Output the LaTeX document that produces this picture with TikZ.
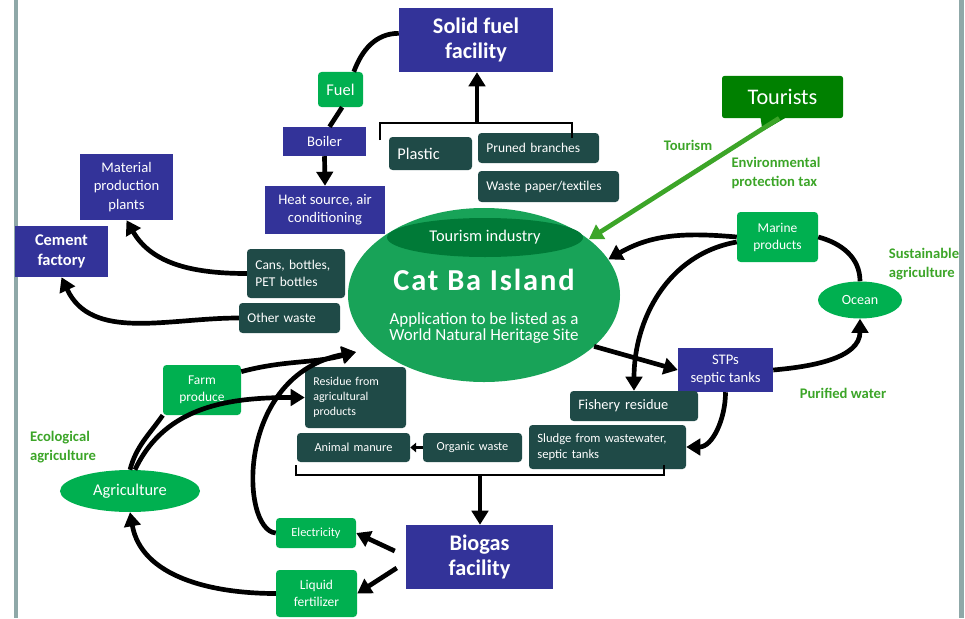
\documentclass[tikz,border=0pt]{standalone}
\usepackage{fontspec}
\setmainfont{Carlito}
\usetikzlibrary{arrows.meta,calc,shapes.geometric}
\definecolor{facblue}{RGB}{51,51,153}
\definecolor{wastegreen}{RGB}{31,74,71}
\definecolor{prodgreen}{RGB}{0,176,80}
\definecolor{tourgreen}{RGB}{0,128,0}
\definecolor{islandgreen}{RGB}{24,163,88}
\definecolor{topgreen}{RGB}{0,122,55}
\definecolor{labelgreen}{RGB}{60,165,40}
\definecolor{framegray}{RGB}{143,168,168}
\newcommand{\fs}[2]{\fontsize{#1}{#2}\selectfont}

\tikzset{
  facility/.style={fill=facblue, text=white, align=center, inner sep=2pt},
  waste/.style={fill=wastegreen, text=white, rounded corners=3pt, align=left, inner xsep=0.25cm, inner ysep=2pt},
  product/.style={fill=prodgreen, text=white, rounded corners=3pt, align=center, inner sep=2pt},
  greenlabel/.style={text=labelgreen, font=\fs{12.5}{16}\bfseries, align=left, inner sep=0pt},
  flow/.style={line width=4pt, -{Triangle[length=12pt,width=14pt]}},
  smallflow/.style={line width=2.5pt, -{Triangle[length=5pt,width=8pt]}},
  garrow/.style={line width=4pt, labelgreen, -{Triangle[length=12pt,width=14pt]}},
  link/.style={line width=4pt},
  bracket/.style={line width=2.5pt},
}

\begin{document}
\begin{tikzpicture}[x=0.03cm, y=-0.03cm]
			%%%%% FRAME %%%%%
			\useasboundingbox (0,0) rectangle (965,618);
			\fill[framegray] (14,0) rectangle (18,618);
			\fill[framegray] (959,0) rectangle (964,618);
			
			%%%%% SOLID FUEL SIDE %%%%%
			\node[facility, minimum width=4.62cm, minimum height=1.92cm, font=\fs{19}{22}\bfseries] (solid) at (476,40) {Solid fuel\\facility};
			\node[product, minimum width=1.35cm, minimum height=1.05cm, font=\fs{14}{15}] (fuel) at (340.5,89.5) {Fuel};
			\node[facility, minimum width=2.49cm, minimum height=0.87cm, font=\fs{12.5}{14}] (boiler) at (324.5,141.5) {Boiler};
			\node[facility, minimum width=3.6cm, minimum height=1.44cm, font=\fs{12.5}{15.5}] (heat) at (325,210) {Heat source, air\\conditioning};
			\node[facility, minimum width=2.79cm, minimum height=1.98cm, font=\fs{12.5}{15.5}] (material) at (126.5,187) {Material\\production\\plants};
			\node[facility, minimum width=2.79cm, minimum height=1.53cm, font=\fs{14}{17}\bfseries] (cement) at (61.5,251.5) {Cement\\factory};
			
			\node[waste, text width=1.99cm, minimum height=0.99cm, font=\fs{14}{15}] (plastic) at (430.5,153.5) {Plastic};
			\node[waste, text width=3.13cm, minimum height=0.9cm, font=\fs{11.5}{13}] (pruned) at (538.5,148) {Pruned branches};
			\node[waste, text width=3.73cm, minimum height=0.93cm, font=\fs{11.5}{13}] (paper) at (548.5,186.5) {Waste paper/textiles};
			\node[waste, text width=2.44cm, minimum height=1.47cm, font=\fs{11.5}{14}] (cans) at (296,273.5) {Cans, bottles,\\PET bottles};
			\node[waste, text width=2.53cm, minimum height=0.9cm, font=\fs{11.5}{13}] (other) at (289.5,318) {Other waste};
			
			%%%%% ISLAND %%%%%
			\node[ellipse, fill=islandgreen, minimum width=8.16cm, minimum height=5.22cm] (island) at (484,295) {};
			\node[ellipse, fill=topgreen, text=white, minimum width=5.88cm, minimum height=1.17cm, font=\fs{14}{15}] (industry) at (485,237.5) {Tourism industry};
			\node[text=white, font=\fs{26}{28}\bfseries\addfontfeatures{LetterSpace=6}] (catba) at (484,280) {Cat Ba Island};
			\node[text=white, align=center, font=\fs{14.5}{13.5}] (heritage) at (484,328) {Application to be listed as a\\World Natural Heritage Site};
			\coordinate (islandsw) at (356,352);
			
			\node[fill=tourgreen, text=white, minimum width=3.63cm, minimum height=1.26cm, rounded corners=2pt, font=\fs{19}{20}] (tourists) at (782.5,97) {Tourists};
			\fill[tourgreen] ($(tourists.south)+(-22,-1)$) -- ++(26,0) -- ++(-24,14) -- cycle;
			
			%%%%% SEA SIDE %%%%%
			\node[product, minimum width=2.43cm, minimum height=1.5cm, font=\fs{11.5}{14.5}] (marine) at (777.5,237) {Marine\\products};
			\node[ellipse, fill=prodgreen, text=white, minimum width=2.52cm, minimum height=1.11cm, inner sep=0pt, font=\fs{12}{13}] (ocean) at (860,300) {Ocean};
			\node[facility, minimum width=2.85cm, minimum height=1.32cm, font=\fs{12.5}{15}] (stps) at (725.5,370) {STPs\\septic tanks};
			\node[waste, text width=3.34cm, minimum height=0.9cm, font=\fs{12.3}{13}] (fishery) at (634,406) {Fishery residue};
			\node[waste, text width=4.21cm, minimum height=1.32cm, font=\fs{10.8}{14}] (sludge) at (607.5,447) {Sludge from wastewater,\\septic tanks};
			
			%%%%% BIOGAS SIDE %%%%%
			\node[waste, text width=2.53cm, minimum height=1.83cm, font=\fs{10.2}{13}] (residue) at (355.5,397.5) {Residue from\\agricultural\\products};
			\node[waste, text width=2.89cm, align=center, minimum height=0.87cm, font=\fs{10.5}{12}] (manure) at (353.5,447.5) {Animal manure};
			\node[waste, text width=2.47cm, align=center, minimum height=0.87cm, font=\fs{10.5}{12}] (organic) at (472.5,447.5) {Organic waste};
			\node[facility, minimum width=4.41cm, minimum height=1.92cm, font=\fs{19}{22}\bfseries] (biogas) at (479.5,557) {Biogas\\facility};
			\node[product, minimum width=2.4cm, minimum height=0.9cm, font=\fs{10.5}{11}] (electricity) at (316,533) {Electricity};
			\node[product, minimum width=2.43cm, minimum height=1.41cm, font=\fs{11.5}{14.5}] (liquid) at (316.5,593.5) {Liquid\\fertilizer};
			\node[ellipse, fill=prodgreen, text=white, minimum width=4.2cm, minimum height=1.26cm, inner sep=0pt, font=\fs{14}{15}] (agriculture) at (130,491) {Agriculture};
			\node[product, minimum width=2.34cm, minimum height=1.5cm, font=\fs{11.5}{14.5}] (farm) at (202,390) {Farm\\produce};
			
			%%%%% GREEN LABELS %%%%%
			\node[greenlabel] (ltourism) at (688,145) {Tourism};
			\node[greenlabel] (ltax) at (776,173) {Environmental\\protection tax};
			\node[greenlabel] (lsust) at (924,264) {Sustainable\\agriculture};
			\node[greenlabel] (lpurified) at (843,393) {Purified water};
			\node[greenlabel] (leco) at (63,447) {Ecological\\agriculture};
			
			%%%%% BRACKETS %%%%%
			\coordinate (topleft) at (380,140);
			\coordinate (topbar) at (477,123);
			\coordinate (topright) at (572,138);
			\draw[bracket] (topleft) |- (topbar) -| (topright);
			\draw[flow] (topbar) -- (topbar |- solid.south);
			
			\coordinate (botleft) at (296,465);
			\coordinate (botbar) at (480,475);
			\coordinate (botright) at (664,465);
			\draw[bracket] (botleft) |- (botbar) -| (botright);
			\draw[flow] (botbar) -- (botbar |- biogas.north);
			
			%%%%% ARROWS %%%%%
			\draw[link] ([yshift=0.2cm]solid.west) to[out=180,in=70] ([xshift=0.4cm]fuel.north);
			\draw[link] ([xshift=0.05cm]fuel.south) -- ([xshift=0.15cm]boiler.north);
			\draw[flow] (boiler.south) -- (heat.north);
			\draw[flow] (cans.west) to[out=180,in=-60] (material.south);
			\draw[flow] (other.west) to[out=180,in=-65] (cement.south);
			
			\draw[garrow] ([xshift=-0.1cm]tourists.south) -- (island.28);
			\draw[flow] (marine.west) to[out=175,in=30] (island.16);
			\draw[flow] ([yshift=-0.15cm]marine.west) to[out=190,in=90] (fishery.north);
			\draw[link] (marine.east) to[out=-15,in=90] (ocean.north);
			\draw[flow] (stps.east) to[out=5,in=-90] (ocean.south);
			\draw[flow] (island.-25) -- (stps.west);
			\draw[flow] (stps.south) to[out=-90,in=0] (sludge.east);
			
			\draw[smallflow] (organic.west) -- (manure.east);
			\draw[flow] ([xshift=-0.33cm,yshift=0.18cm]biogas.west) -- (electricity.east);
			\draw[flow] ([xshift=-0.27cm,yshift=-0.33cm]biogas.west) -- (liquid.east);
			\draw[flow] (liquid.west) to[out=180,in=-80] (agriculture.south);
			\draw[link] (agriculture.north) to[out=75,in=235] (farm.south west);
			\draw[flow] ([xshift=0.15cm]agriculture.north) to[out=65,in=180] (residue.west);
			\draw[flow] ([yshift=0.55cm]farm.east) to[out=15,in=195] (islandsw);
			\draw[flow] (electricity.west) .. controls (240,530) and (235,375) .. (islandsw);
			
			%%%%% END %%%%%
\end{tikzpicture}
\end{document}
